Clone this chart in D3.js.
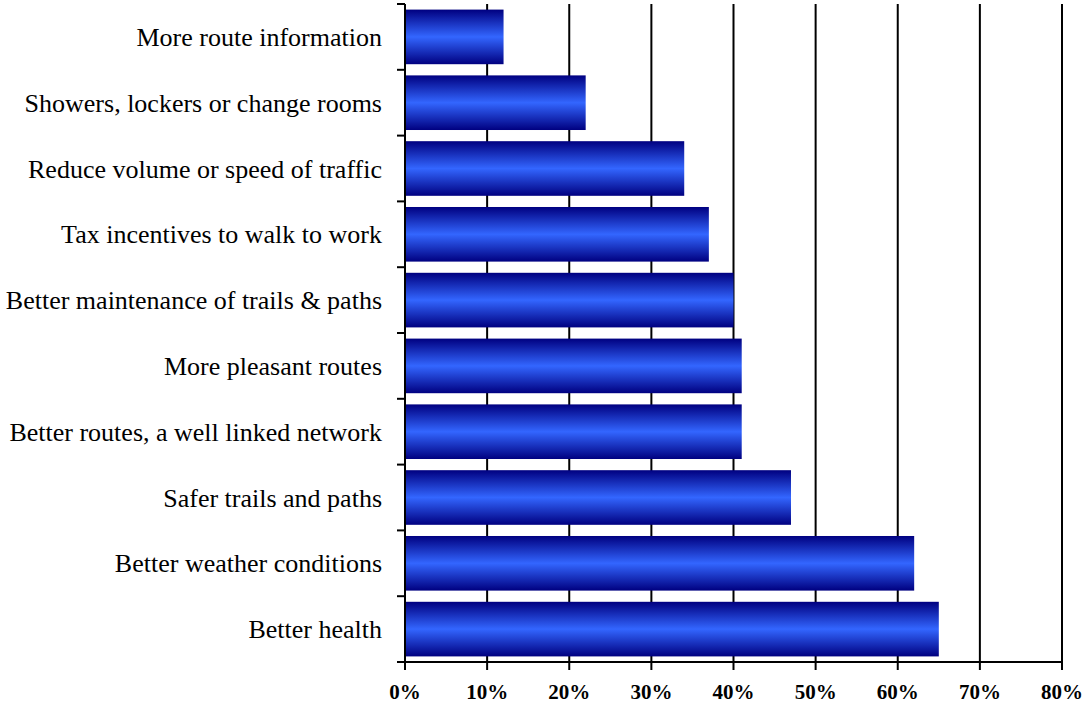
<!DOCTYPE html>
<html>
<head>
<meta charset="utf-8">
<script src="https://cdn.jsdelivr.net/npm/d3@7"></script>
<style>
html,body{margin:0;padding:0;background:#fff;}
svg{display:block;}
</style>
</head>
<body>
<svg id="chart" width="1085" height="704"></svg>
<script>
const categories = [
  "More route information",
  "Showers, lockers or change rooms",
  "Reduce volume or speed of traffic",
  "Tax incentives to walk to work",
  "Better maintenance of trails & paths",
  "More pleasant routes",
  "Better routes, a well linked network",
  "Safer trails and paths",
  "Better weather conditions",
  "Better health"
];
const values = [12, 22, 34, 37, 40, 41, 41, 47, 62, 65];
const xTicks = [0, 10, 20, 30, 40, 50, 60, 70, 80];

(function () {
const svg = d3.select("#chart");
const mLeft = 405, mRight = 1062, mTop = 4, mBottom = 662;

const x = d3.scaleLinear().domain([0, 80]).range([mLeft, mRight]);
const y = d3.scaleBand().domain(categories).range([mTop, mBottom])
  .paddingInner(0.17).paddingOuter(0.085);

const defs = svg.append("defs");
const grad = defs.append("linearGradient").attr("id", "barGrad")
  .attr("x1", 0).attr("y1", 0).attr("x2", 0).attr("y2", 1);
grad.append("stop").attr("offset", "0%").attr("stop-color", "#000080");
grad.append("stop").attr("offset", "50%").attr("stop-color", "#3366FF");
grad.append("stop").attr("offset", "100%").attr("stop-color", "#000080");

// vertical gridlines
svg.append("g").selectAll("line").data(xTicks.filter(d => d > 0)).join("line")
  .attr("x1", d => x(d)).attr("x2", d => x(d))
  .attr("y1", mTop).attr("y2", mBottom)
  .attr("stroke", "#000").attr("stroke-width", 2);

// bars
svg.append("g").selectAll("rect").data(categories).join("rect")
  .attr("x", x(0))
  .attr("y", d => y(d))
  .attr("width", (d, i) => x(values[i]) - x(0))
  .attr("height", y.bandwidth())
  .attr("fill", "url(#barGrad)");

// left axis line + ticks at band boundaries
const step = y.step();
const boundaries = d3.range(categories.length + 1).map(i => mTop + i * step);
svg.append("line").attr("x1", mLeft).attr("x2", mLeft).attr("y1", mTop).attr("y2", mBottom)
  .attr("stroke", "#000").attr("stroke-width", 2);
svg.append("g").selectAll("line").data(boundaries).join("line")
  .attr("x1", mLeft - 8).attr("x2", mLeft).attr("y1", d => d).attr("y2", d => d)
  .attr("stroke", "#000").attr("stroke-width", 2);

// bottom axis
svg.append("line").attr("x1", mLeft - 8).attr("x2", mRight).attr("y1", mBottom).attr("y2", mBottom)
  .attr("stroke", "#000").attr("stroke-width", 2);
svg.append("g").selectAll("line").data(xTicks).join("line")
  .attr("x1", d => x(d)).attr("x2", d => x(d)).attr("y1", mBottom).attr("y2", mBottom + 8)
  .attr("stroke", "#000").attr("stroke-width", 2);

// tick labels
svg.append("g").selectAll("text").data(xTicks).join("text")
  .attr("x", d => x(d)).attr("y", 699)
  .attr("text-anchor", "middle")
  .attr("font-family", "'Liberation Serif', 'Times New Roman', serif")
  .attr("font-weight", "bold").attr("font-size", 21)
  .text(d => d + "%");

// category labels
svg.append("g").selectAll("text").data(categories).join("text")
  .attr("x", 382)
  .attr("y", d => y(d) + y.bandwidth() / 2 + 9)
  .attr("text-anchor", "end")
  .attr("font-family", "'Liberation Serif', 'Times New Roman', serif")
  .attr("font-size", 26)
  .text(d => d);
})();
</script>
</body>
</html>
